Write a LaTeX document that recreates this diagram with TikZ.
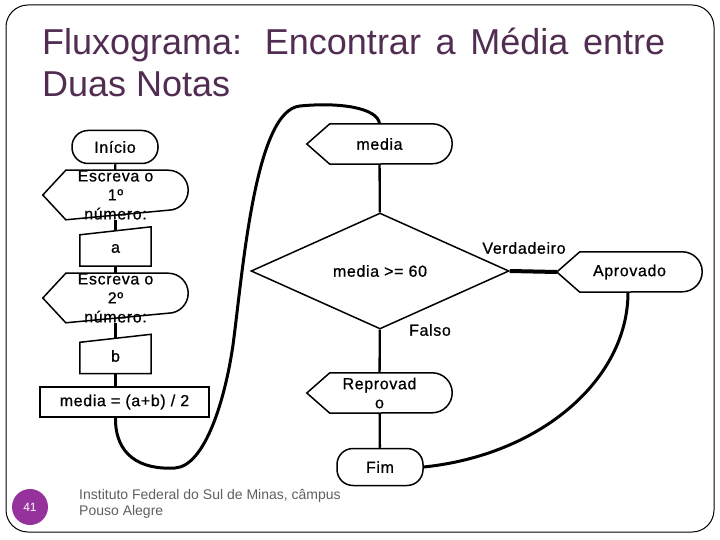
\documentclass[tikz,border=0pt]{standalone}
\usepackage{fontspec}
\setmainfont{Liberation Sans}
\newfontfamily\chartfont[LetterSpace=4,FakeBold=0.7]{Liberation Sans}
\usetikzlibrary{shapes.geometric}

\definecolor{titlepurple}{RGB}{82,45,82}
\definecolor{slidepurple}{RGB}{150,50,155}
\definecolor{footgray}{RGB}{95,95,95}

\tikzset{
  chart/.style={font=\chartfont\fontsize{16}{19}\selectfont, align=center},
  terminal/.style={chart, draw, line width=1.5pt, rounded corners=16pt, minimum width=86pt, minimum height=33pt},
  display/.style={chart, minimum width=145pt, minimum height=40pt, inner sep=0pt,
    append after command={\pgfextra{\draw[line width=1.5pt] (\tikzlastnode.west)
      -- ([xshift=23pt]\tikzlastnode.north west) -- ([xshift=-20pt]\tikzlastnode.north east)
      arc[start angle=90,end angle=-90,radius=20pt]
      -- ([xshift=23pt]\tikzlastnode.south west) -- cycle;}}},
  manual/.style={chart, minimum width=71pt, minimum height=35pt, inner sep=0pt,
    append after command={\pgfextra{\draw[line width=1.5pt] (\tikzlastnode.south west)
      -- ([yshift=-4pt]\tikzlastnode.north west) -- ([yshift=4pt]\tikzlastnode.north east)
      -- (\tikzlastnode.south east) -- cycle;}}},
  process/.style={chart, draw, line width=1.5pt, minimum width=169pt, minimum height=30pt},
  decision/.style={chart, draw, diamond, line width=1.5pt, inner sep=0pt, minimum width=258pt, minimum height=116pt},
  conn/.style={line width=2.3pt},
  curve/.style={line width=3pt},
  answer/.style={chart}
}

\begin{document}
\begin{tikzpicture}[x=1pt,y=-1pt]
\useasboundingbox (0,0) rectangle (720,540);
\draw[line width=1pt, rounded corners=22pt] (6,5) rectangle (714,532);

\node[anchor=north west, inner sep=0pt, align=left, text=titlepurple,
  font=\fontsize{36}{42}\selectfont] (titulo) at (42,28)
  {\makebox[623pt][s]{Fluxograma: Encontrar a Média entre}\\Duas Notas};

\node[terminal] (inicio) at (115,147) {Início};
\node[display] (escreva1) at (115.5,195) {Escreva o\\1º\\número:};
\node[manual] (a) at (115.5,248.5) {a};
\node[display] (escreva2) at (115.5,298) {Escreva o\\2º\\número:};
\node[manual] (b) at (115.5,356) {b};
\node[process] (calculo) at (124.5,402) {media = (a+b) / 2};

\node[display] (media) at (379.5,144) {media};
\node[decision] (teste) at (380,271) {media >= 60};
\node[display] (aprovado) at (629.5,272) {Aprovado};
\node[display] (reprovado) at (379.5,393) {Reprovad\\o};
\node[terminal, minimum height=37pt] (fim) at (380,467) {Fim};

\node[answer] (verdadeiro) at (524,248) {Verdadeiro};
\node[answer] (falso) at (430,330) {Falso};

\draw[conn] (inicio) -- (escreva1);
\draw[conn] (escreva1) -- (a);
\draw[conn] (a) -- (escreva2);
\draw[conn] (escreva2) -- (b);
\draw[conn] (b.south) -- (calculo.north -| b.south);
\draw[curve] (calculo.south -| b.south) .. controls (115,455) and (140,470) .. (175,468)
  .. controls (205,466) and (225,400) .. (233,345)
  .. controls (243,270) and (255,110) .. (300,106)
  .. controls (340,102) and (378,108) .. (media.north);
\draw[conn] (media) -- (teste);
\draw[line width=4pt] (teste.east) -- (aprovado.west);
\draw[conn] (teste) -- (reprovado);
\draw[conn] (reprovado) -- (fim);
\draw[curve] ([xshift=-1.5pt]aprovado.south) .. controls (628,380) and (540,455) .. (fim.east);

\node[circle, fill=slidepurple, minimum size=36pt, inner sep=0pt, text=white,
  font=\fontsize{12}{14}\selectfont] (pagina) at (30,507) {41};
\node[anchor=north west, inner sep=0pt, align=left, text=footgray,
  font=\fontsize{14}{16}\selectfont] (rodape) at (79,489)
  {Instituto Federal do Sul de Minas, câmpus\\Pouso Alegre};
\end{tikzpicture}
\end{document}
